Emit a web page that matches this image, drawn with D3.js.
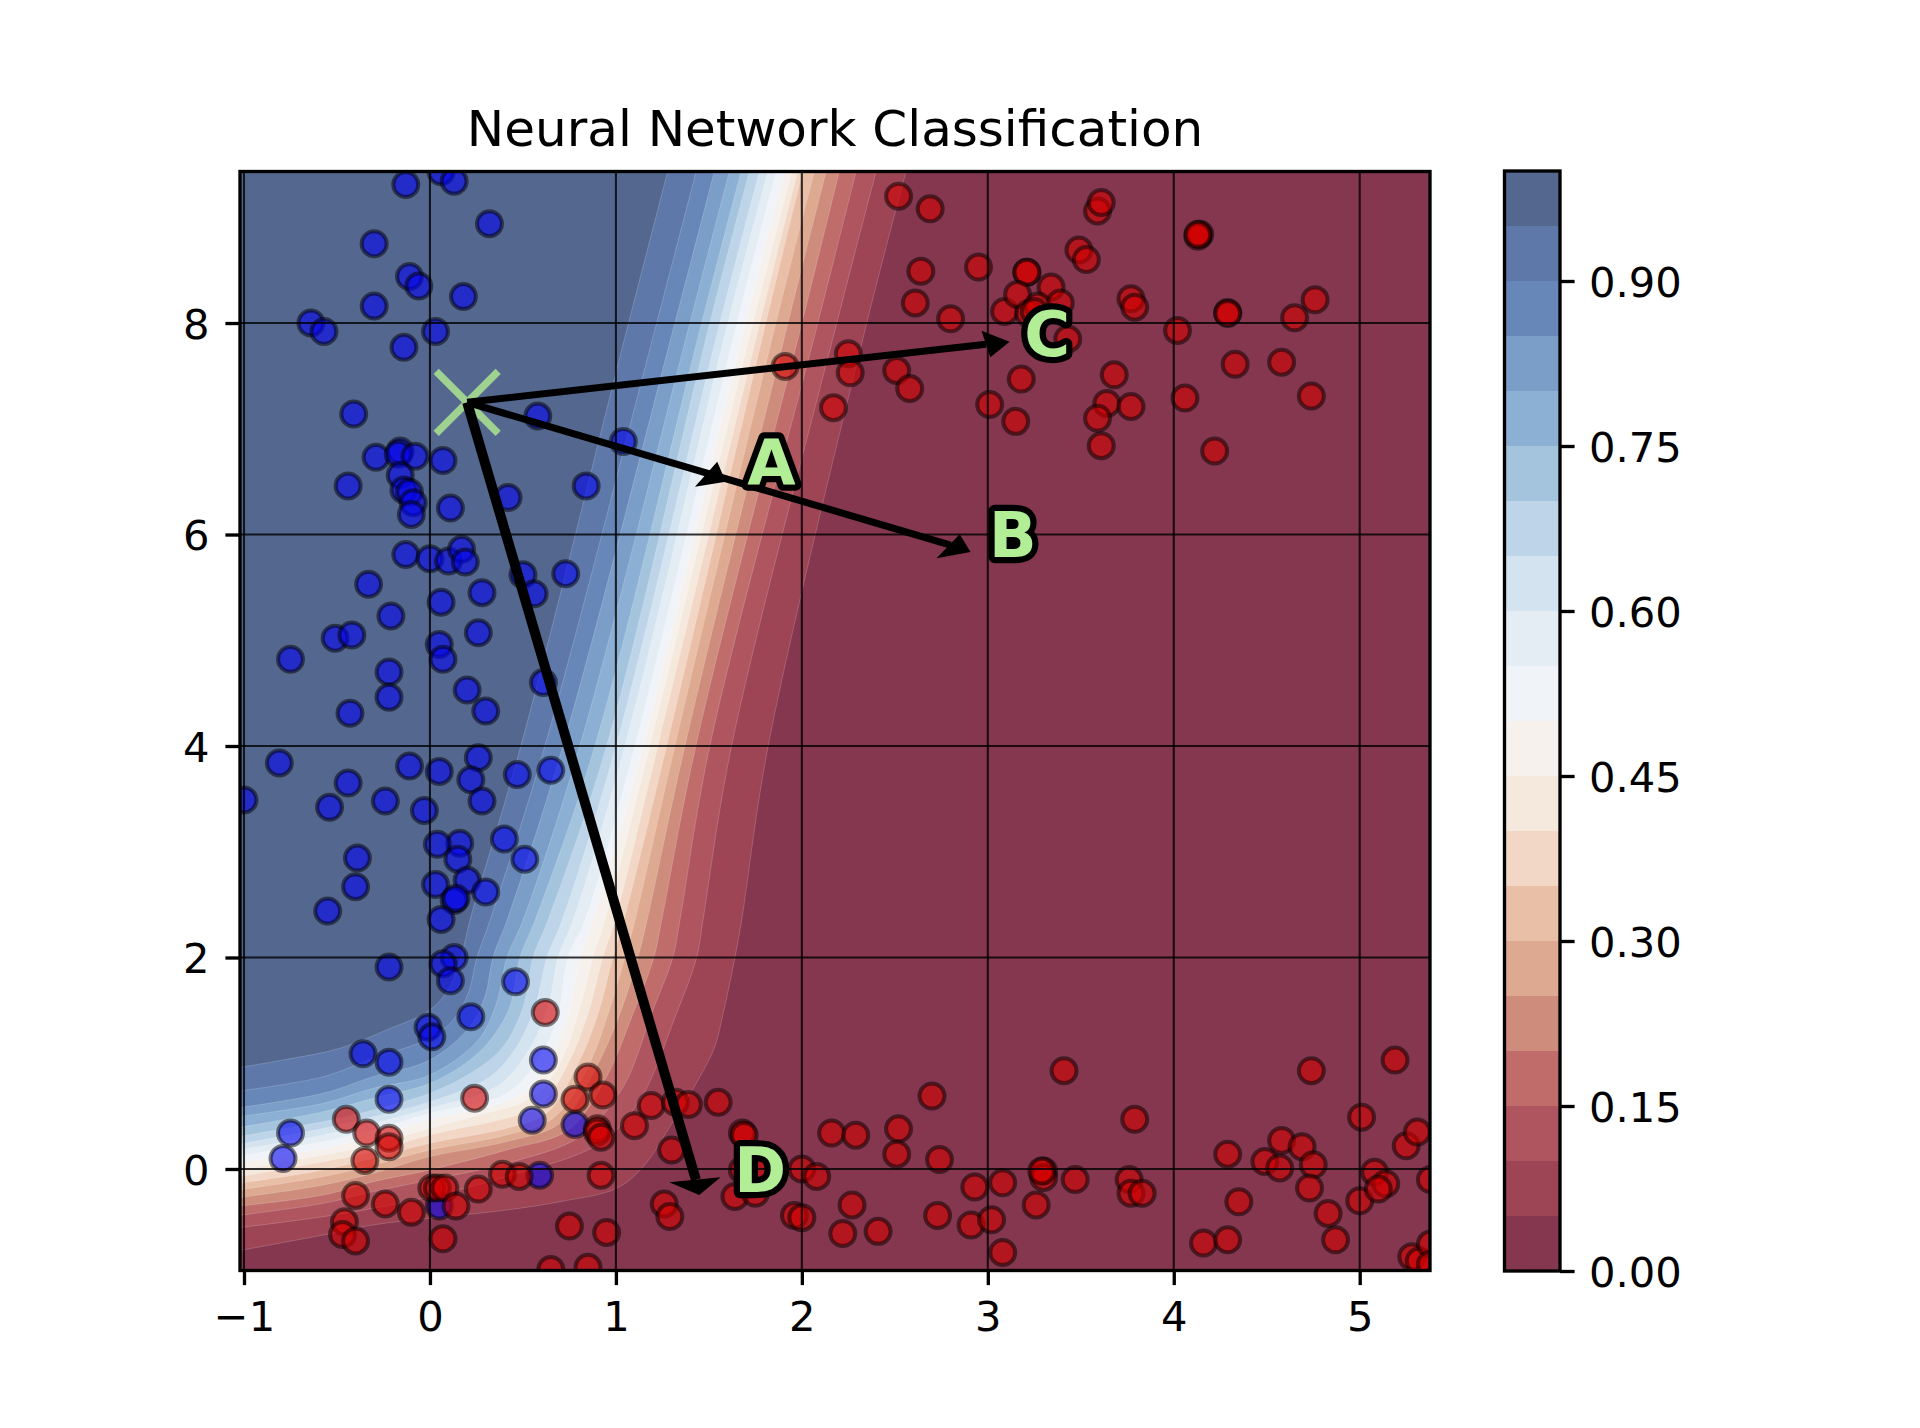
<!DOCTYPE html>
<html>
<head>
<meta charset="utf-8">
<script src="https://cdnjs.cloudflare.com/ajax/libs/d3/7.8.5/d3.min.js"></script>
<style>
html,body{margin:0;padding:0;background:#fff}
svg{display:block}
text{font-family:"DejaVu Sans",sans-serif}
</style>
</head>
<body>
<svg id="chart" width="1920" height="1428"></svg>
<script>
const chartTitle = "Neural Network Classification";
const xTicks = [-1,0,1,2,3,4,5];
const yTicks = [0,2,4,6,8];
const colorbarTicks = [0,0.15,0.30,0.45,0.60,0.75,0.90];
const bandEdges = [0,0.05,0.10,0.15,0.20,0.25,0.30,0.35,0.40,0.45,0.50,0.55,0.60,0.65,0.70,0.75,0.80,0.85,0.90,0.95,1];
const bandColors = ["#84374f","#9d4455","#af5560","#bf6c6b","#ce8d7c","#dea991","#e9bfa8","#f2d6c6","#f5e8dc","#f6f1ed","#f0f4f8","#e4ecf4","#d3e3f0","#bdd4e9","#a4c3dc","#8bb0d4","#7b9ec8","#6787b9","#5e78aa","#54688f"];

const contour05 = [[-1.05,-0.78],[-0.573,-0.624],[-0.305,-0.529],[0,-0.466],[0.412,-0.388],[0.699,-0.309],[1.004,-0.183],[1.147,0.022],[1.29,0.4],[1.452,0.873],[1.532,1.157],[1.577,1.472],[1.64,2],[1.676,2.35],[1.819,4],[2.349,8],[2.563,9.45]];
const contour10 = [[-1.05,-0.561],[-0.573,-0.451],[-0.305,-0.372],[0,-0.262],[0.412,-0.072],[0.914,0.243],[1.129,0.653],[1.326,1.472],[1.434,2],[1.468,2.35],[1.622,4],[2.188,8],[2.402,9.45]];
const contour15 = [[-1.05,-0.444],[-0.573,-0.325],[-0.305,-0.214],[0,-0.104],[0.412,0.054],[0.806,0.306],[1.04,0.779],[1.192,1.472],[1.306,2],[1.344,2.35],[1.505,4],[2.086,8],[2.294,9.45]];
const contour20 = [[-1.05,-0.356],[-0.573,-0.246],[-0.305,-0.12],[0,-0.009],[0.412,0.18],[0.744,0.369],[0.941,0.842],[1.093,1.472],[1.204,2],[1.246,2.35],[1.43,4],[2,8],[2.204,9.45]];
const contour25 = [[-1.05,-0.277],[-0.573,-0.151],[-0.305,-0.041],[0,0.117],[0.412,0.259],[0.699,0.432],[0.887,0.936],[1.022,1.472],[1.118,2],[1.167,2.35],[1.371,4],[1.925,8],[2.133,9.45]];
const contour30 = [[-1.05,-0.205],[-0.573,-0.072],[-0.305,0.038],[0,0.18],[0.412,0.322],[0.663,0.479],[0.842,0.936],[0.959,1.472],[1.048,2],[1.102,2.35],[1.317,4],[1.86,8],[2.07,9.45]];
const contour35 = [[-1.05,-0.142],[-0.573,-0.009],[-0.305,0.101],[0,0.243],[0.412,0.385],[0.627,0.527],[0.798,1],[0.905,1.472],[0.984,2],[1.043,2.35],[1.273,4],[1.806,8],[2.007,9.45]];
const contour40 = [[-1.05,-0.082],[-0.573,0.069],[-0.305,0.164],[0,0.322],[0.412,0.479],[0.591,0.59],[0.753,1.031],[0.851,1.472],[0.93,2],[0.995,2.35],[1.226,4],[1.774,8],[1.98,9.45]];
const contour45 = [[-1.05,-0.016],[-0.573,0.133],[-0.305,0.227],[0,0.385],[0.233,0.495],[0.556,0.684],[0.699,1],[0.798,1.472],[0.876,2],[0.941,2.35],[1.183,4],[1.737,8],[1.95,9.45]];
const contour50 = [[-1.05,0.047],[-0.573,0.195],[-0.305,0.306],[0,0.463],[0.233,0.558],[0.502,0.716],[0.645,1.031],[0.744,1.472],[0.806,2],[0.876,2.35],[1.145,4],[1.694,8],[1.91,9.45]];
const contour55 = [[-1.05,0.117],[-0.573,0.259],[-0.305,0.369],[0,0.527],[0.412,0.716],[0.591,1.062],[0.69,1.472],[0.742,2],[0.833,2.35],[1.102,4],[1.651,8],[1.864,9.45]];
const contour60 = [[-1.05,0.174],[-0.573,0.322],[-0.305,0.432],[0,0.574],[0.358,0.779],[0.52,1.094],[0.636,1.535],[0.688,2],[0.769,2.35],[1.048,4],[1.602,8],[1.819,9.45]];
const contour65 = [[-1.05,0.227],[-0.573,0.385],[-0.305,0.495],[0,0.637],[0.323,0.873],[0.466,1.157],[0.565,1.535],[0.629,2],[0.71,2.35],[1,4],[1.559,8],[1.774,9.45]];
const contour70 = [[-1.05,0.3],[-0.573,0.448],[-0.305,0.558],[0,0.716],[0.233,0.921],[0.394,1.157],[0.502,1.535],[0.554,2],[0.634,2.35],[0.95,4],[1.505,8],[1.72,9.45]];
const contour75 = [[-1.05,0.385],[-0.573,0.542],[-0.305,0.668],[0,0.81],[0.215,1.031],[0.332,1.236],[0.43,1.535],[0.484,2],[0.565,2.35],[0.887,4],[1.461,8],[1.676,9.45]];
const contour80 = [[-1.05,0.489],[-0.573,0.621],[-0.305,0.763],[0,0.889],[0.26,1.22],[0.358,1.567],[0.414,2],[0.5,2.35],[0.806,4],[1.398,8],[1.613,9.45]];
const contour85 = [[-1.05,0.574],[-0.573,0.716],[-0.305,0.873],[0,1.031],[0.215,1.346],[0.296,1.63],[0.339,2],[0.414,2.35],[0.715,4],[1.317,8],[1.532,9.45]];
const contour90 = [[-1.05,0.731],[-0.573,0.873],[-0.305,1.047],[0,1.236],[0.125,1.409],[0.206,1.661],[0.253,2],[0.323,2.35],[0.618,4],[1.219,8],[1.434,9.45]];
const contour95 = [[-1.05,0.952],[-0.789,1.031],[-0.484,1.141],[-0.233,1.315],[0,1.504],[0.108,1.724],[0.167,2],[0.215,2.35],[0.489,4],[1.068,8],[1.281,9.45]];
const contourLines = [contour05,contour10,contour15,contour20,contour25,contour30,contour35,contour40,contour45,contour50,contour55,contour60,contour65,contour70,contour75,contour80,contour85,contour90,contour95];

const bluePoints = [[-0.13,9.31],[0.06,9.43],[0.13,9.34],[0.32,8.94],[-0.3,8.75],[-0.11,8.44],[-0.06,8.35],[0.18,8.25],[-0.3,8.16],[-0.64,8],[-0.57,7.92],[0.03,7.92],[-0.14,7.77],[-0.41,7.14],[0.58,7.12],[1.04,6.88],[-0.29,6.73],[-0.16,6.79],[-0.17,6.76],[-0.08,6.74],[0.07,6.7],[-0.44,6.46],[0.84,6.46],[-0.16,6.56],[-0.14,6.42],[-0.11,6.4],[-0.09,6.3],[-0.1,6.19],[0.11,6.25],[0.42,6.35],[-0.13,5.81],[0,5.77],[0.1,5.75],[0.17,5.86],[0.19,5.74],[-0.33,5.53],[0.5,5.62],[0.56,5.44],[0.73,5.63],[0.28,5.45],[0.06,5.36],[-0.21,5.23],[-0.51,5.02],[-0.42,5.05],[-0.75,4.82],[0.05,4.96],[0.07,4.82],[-0.22,4.7],[0.26,5.07],[0.61,4.6],[0.2,4.53],[-0.22,4.46],[-0.43,4.31],[0.3,4.33],[-0.81,3.84],[-0.11,3.81],[0.05,3.76],[0.26,3.89],[0.47,3.73],[0.65,3.77],[0.22,3.68],[-0.44,3.65],[-0.24,3.48],[0.28,3.48],[-1,3.49],[-0.54,3.42],[-0.03,3.39],[0.4,3.12],[0.16,3.08],[0.04,3.07],[0.15,2.93],[0.51,2.93],[-0.39,2.94],[-0.4,2.67],[0.03,2.69],[0.2,2.73],[0.3,2.62],[0.13,2.54],[0.14,2.56],[0.06,2.36],[-0.55,2.44],[0.13,2],[0.07,1.94],[-0.22,1.91],[0.11,1.78],[0.46,1.77],[0.22,1.44],[-0.01,1.34],[0.01,1.25],[-0.36,1.09],[-0.22,1.01],[0.61,1.03],[0.61,0.71],[-0.22,0.66],[0.55,0.46],[0.78,0.42],[-0.75,0.34],[-0.79,0.1],[0.59,-0.06],[0.05,-0.35]];

const redPoints = [[0.62,1.48],[0.24,0.67],[-0.45,0.47],[-0.34,0.34],[-0.22,0.29],[-0.22,0.21],[-0.35,0.08],[0.85,0.87],[0.78,0.66],[0.93,0.7],[0.9,0.38],[0.9,0.35],[0.92,0.3],[1.1,0.41],[1.19,0.6],[1.32,0.63],[1.39,0.61],[1.55,0.63],[1.3,0.18],[1.68,0.34],[1.69,0.32],[0.92,-0.06],[0.39,-0.05],[0.48,-0.07],[0.26,-0.19],[0.01,-0.18],[0.04,-0.18],[0.08,-0.18],[-0.4,-0.25],[-0.24,-0.33],[-0.1,-0.41],[0.14,-0.35],[-0.46,-0.5],[-0.47,-0.62],[-0.4,-0.68],[0.07,-0.66],[0.75,-0.54],[0.95,-0.6],[1.26,-0.33],[1.29,-0.45],[0.65,-0.95],[0.85,-0.93],[1.64,-0.26],[1.75,-0.23],[1.68,-0.01],[1.76,-0.01],[2,0],[2.08,-0.07],[2.16,0.34],[2.29,0.32],[2.27,-0.34],[1.96,-0.44],[2,-0.46],[2.22,-0.61],[2.41,-0.59],[2.52,0.38],[2.51,0.14],[2.7,0.69],[3.41,0.93],[3.79,0.47],[2.74,0.09],[2.73,-0.44],[2.93,-0.17],[2.91,-0.53],[3.02,-0.48],[3.08,-0.13],[3.08,-0.79],[3.26,-0.34],[3.3,-0.02],[3.3,-0.08],[3.29,-0.02],[3.47,-0.1],[3.76,-0.1],[3.77,-0.23],[3.83,-0.23],[4.29,0.14],[4.35,-0.31],[4.16,-0.7],[4.29,-0.67],[4.49,0.07],[4.58,0.27],[4.57,0.01],[4.69,0.21],[4.75,0.04],[4.73,-0.18],[4.74,0.93],[4.83,-0.42],[4.87,-0.67],[5.01,0.49],[5,-0.3],[5.08,-0.03],[5.14,-0.14],[5.1,-0.19],[5.19,1.03],[5.25,0.22],[5.31,0.35],[5.28,-0.83],[5.32,-0.87],[5.38,-0.71],[5.38,-0.9],[5.38,-0.1],[2.52,9.2],[2.69,9.08],[3.59,9.06],[3.61,9.14],[4.14,8.84],[4.13,8.82],[4.13,8.84],[2.64,8.49],[2.95,8.53],[3.21,8.48],[3.21,8.48],[3.49,8.69],[3.53,8.6],[3.34,8.34],[3.77,8.23],[3.79,8.15],[2.61,8.19],[2.8,8.04],[3.09,8.11],[3.16,8.27],[3.22,8.09],[3.27,8.16],[3.39,8.19],[3.25,8.11],[4.29,8.1],[4.29,8.09],[4.02,7.93],[4.76,8.22],[4.65,8.05],[3.43,7.85],[4.33,7.61],[4.58,7.63],[3.68,7.51],[2.51,7.55],[2.58,7.38],[2.25,7.71],[2.26,7.53],[3.18,7.47],[3.01,7.23],[3.15,7.07],[3.64,7.24],[3.77,7.21],[3.59,7.1],[4.06,7.29],[4.74,7.31],[3.61,6.84],[4.22,6.79],[1.91,7.59],[2.17,7.2]];

const markerX = [[0.2,7.25]];
const arrowShafts = [[[0.2,7.25],[2.99,7.8]],[[0.2,7.25],[2.8,5.9]],[[0.2,7.25],[1.43,-0.1]]];
const arrowWidths = [7,7,10];
const arrowHeads = [[[3.117,7.824],[2.966,7.928],[3.014,7.676]],[[2.907,5.835],[2.849,6.002],[2.724,5.775]],[[1.425,6.452],[1.545,6.689],[1.591,6.499]],[[1.448,-0.246],[1.287,-0.126],[1.563,-0.079]]];
const labelNames = ["A","B","C","D"];
const labelX = [1.837,3.134,3.32,1.776];
const labelY = [6.478,5.79,7.69,-0.218];

const LW = 3.33, TL = 14.6;
const x = d3.scaleLinear().domain([-1.0215,5.378]).range([240,1430]);
const y = d3.scaleLinear().domain([-0.96,9.433]).range([1270.5,171.5]);
const cbY = d3.scaleLinear().domain([0,1]).range([1271,171]);
const cbLeft = 1504.5, cbRight = 1560;

const svg = d3.select("#chart");
svg.append("defs").append("clipPath").attr("id","axclip").append("rect")
  .attr("x",x.range()[0]).attr("y",y.range()[1]).attr("width",x.range()[1]-x.range()[0]).attr("height",y.range()[0]-y.range()[1]);
const plot = svg.append("g").attr("clip-path","url(#axclip)");

// filled contour bands
plot.append("rect").attr("x",240).attr("y",171.5).attr("width",1190).attr("height",1099).attr("fill",bandColors[0]);
const contourLine = d3.line().x(d=>x(d[0])).y(d=>y(d[1])).curve(d3.curveCatmullRom.alpha(0.5));
plot.selectAll("path.band").data(contourLines).join("path").attr("class","band")
  .attr("d",d=>contourLine(d)+"L"+x(-1.05)+","+y(9.45)+"Z")
  .attr("fill",(d,i)=>bandColors[i+1]);
plot.selectAll("path.edge").data(contourLines).join("path").attr("class","edge")
  .attr("d",contourLine).attr("fill","none").attr("stroke","#fff").attr("stroke-opacity",0.18).attr("stroke-width",1);

// scatter
const dots = (arr,col)=>plot.append("g").selectAll("circle").data(arr).join("circle")
  .attr("cx",d=>x(d[0])).attr("cy",d=>y(d[1])).attr("r",12.5)
  .attr("fill",col).attr("fill-opacity",0.6).attr("stroke","#000").attr("stroke-opacity",0.5).attr("stroke-width",4);
dots(bluePoints,"#0404f0");
dots(redPoints,"#d40000");

// grid
plot.append("g").selectAll("line").data(xTicks).join("line")
  .attr("x1",d=>x(d)).attr("x2",d=>x(d)).attr("y1",171.5).attr("y2",1270.5)
  .attr("stroke","#000").attr("stroke-opacity",0.8).attr("stroke-width",2.08);
plot.append("g").selectAll("line").data(yTicks).join("line")
  .attr("y1",d=>y(d)).attr("y2",d=>y(d)).attr("x1",240).attr("x2",1430)
  .attr("stroke","#000").attr("stroke-opacity",0.8).attr("stroke-width",2.08);

// X marker
const mk = plot.append("g").selectAll("g").data(markerX).join("g")
  .attr("transform",d=>`translate(${x(d[0])},${y(d[1])})`);
[[-31,-31,31,31],[-31,31,31,-31]].forEach(s=>mk.append("line")
  .attr("x1",s[0]).attr("y1",s[1]).attr("x2",s[2]).attr("y2",s[3])
  .attr("stroke","#9fd290").attr("stroke-width",7.3));

// arrows
const straight = d3.line().x(d=>x(d[0])).y(d=>y(d[1]));
plot.append("g").selectAll("path").data(arrowShafts).join("path")
  .attr("d",straight).attr("fill","none").attr("stroke","#000").attr("stroke-width",(d,i)=>arrowWidths[i]);
plot.append("g").selectAll("path").data(arrowHeads).join("path")
  .attr("d",d=>straight(d)+"Z").attr("fill","#000");

// spines
svg.append("rect").attr("x",240).attr("y",171.5).attr("width",1190).attr("height",1099)
  .attr("fill","none").attr("stroke","#000").attr("stroke-width",LW);

// axes
const styleAxis = g=>{
  g.select(".domain").remove();
  g.selectAll(".tick line").attr("stroke","#000").attr("stroke-width",LW);
  g.selectAll(".tick text").attr("fill","#000").attr("font-size",41.67).attr("font-family","DejaVu Sans");
};
svg.append("g").attr("transform","translate(0,1270.5)")
  .call(d3.axisBottom(x).tickValues(xTicks).tickFormat(d3.format("d")).tickSize(TL).tickPadding(16.5)).call(styleAxis);
svg.append("g").attr("transform","translate(240,0)")
  .call(d3.axisLeft(y).tickValues(yTicks).tickFormat(d3.format("d")).tickSize(TL).tickPadding(16)).call(styleAxis)
  .selectAll(".tick text").attr("dy","0.37em");
svg.append("text").attr("x",835).attr("y",146).attr("text-anchor","middle").attr("font-size",50).attr("fill","#000").text(chartTitle);

// labels
plot.append("g").selectAll("text").data(labelNames).join("text")
  .attr("x",(d,i)=>x(labelX[i])).attr("y",(d,i)=>y(labelY[i])).attr("text-anchor","middle")
  .attr("font-size",62.5).attr("font-weight","bold").attr("fill","#b2ee96")
  .attr("stroke","#000").attr("stroke-width",12.5).attr("stroke-linejoin","round").attr("paint-order","stroke")
  .text(d=>d);

// colorbar
svg.append("g").selectAll("rect").data(bandColors).join("rect")
  .attr("x",cbLeft).attr("width",cbRight-cbLeft)
  .attr("y",(d,i)=>cbY(bandEdges[i+1])).attr("height",(d,i)=>cbY(bandEdges[i])-cbY(bandEdges[i+1]))
  .attr("fill",d=>d);
svg.append("rect").attr("x",cbLeft).attr("y",171).attr("width",cbRight-cbLeft).attr("height",1100)
  .attr("fill","none").attr("stroke","#000").attr("stroke-width",LW);
svg.append("g").attr("transform",`translate(${cbRight},0)`)
  .call(d3.axisRight(cbY).tickValues(colorbarTicks).tickFormat(d3.format(".2f")).tickSize(TL).tickPadding(14.5)).call(styleAxis)
  .selectAll(".tick text").attr("dy","0.37em");
</script>
</body>
</html>
